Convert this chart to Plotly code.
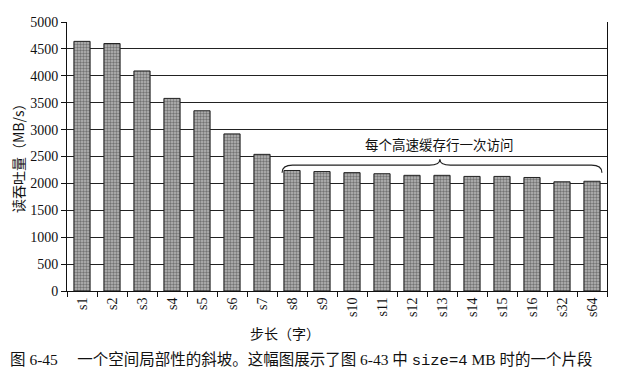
import plotly.graph_objects as go

categories = ["s1", "s2", "s3", "s4", "s5", "s6", "s7", "s8", "s9", "s10",
              "s11", "s12", "s13", "s14", "s15", "s16", "s32", "s64"]
throughput = [4640, 4600, 4090, 3580, 3350, 2920, 2540, 2240, 2220, 2200,
              2180, 2150, 2150, 2130, 2130, 2110, 2030, 2040]
y_ticks = [0, 500, 1000, 1500, 2000, 2500, 3000, 3500, 4000, 4500, 5000]
y_title = "读吞吐量（MB/s）"
x_title = "步长（字）"
brace_label = "每个高速缓存行一次访问"
caption = ('图 6-45 &nbsp;&nbsp;&nbsp; 一个空间局部性的斜坡。这幅图展示了图 6-43 中 '
           '<span style="font-family:Liberation Mono">size=4</span> MB 时的一个片段')

serif = "Liberation Serif, Noto Sans CJK SC"
cjk = "Noto Sans CJK SC"

# the page body has an 8px default margin, so the figure is 8px smaller
W, H = 632, 371
L, T, PW, PH = 59, 14, 540, 269

fig = go.Figure(go.Bar(
    x=categories, y=throughput,
    width=0.54,
    marker=dict(
        color="#8e8e8e",
        line=dict(color="#222", width=1),
        pattern=dict(shape=".", fgcolor="#2e2e2e", bgcolor="#b8b8b8",
                     size=3, solidity=0.5),
    ),
))

# curly brace over s8..s64 (in data units: category index, throughput)
x0, x1, xm = 6.67, 17.33, 11.93
yh, ye, yc = 2340, 2200, 2450
r = 0.35
brace = (f"M {x0},{ye} Q {x0},{yh} {x0 + r},{yh} L {xm - r},{yh} "
         f"Q {xm},{yh} {xm},{yc} Q {xm},{yh} {xm + r},{yh} "
         f"L {x1 - r},{yh} Q {x1},{yh} {x1},{ye}")
fig.add_shape(type="path", path=brace, xref="x", yref="y",
              line=dict(color="#222", width=1.2))
fig.add_annotation(x=xm, y=2740, xref="x", yref="y", text=brace_label,
                   showarrow=False, yanchor="middle",
                   font=dict(family=cjk, size=13.5, color="#111"))


def px(x):
    return (x - 67) / PW


def py(y):
    return (291 - y) / PH


fig.add_annotation(x=px(285), y=py(333), xref="paper", yref="paper",
                   text=x_title, showarrow=False, yanchor="middle",
                   font=dict(family=cjk, size=14, color="#111"))
fig.add_annotation(x=px(18), y=py(155), xref="paper", yref="paper",
                   text=y_title, showarrow=False, textangle=-90,
                   xanchor="center", yanchor="middle",
                   font=dict(family=cjk, size=14, color="#111"))
fig.add_annotation(x=px(8), y=py(360), xref="paper", yref="paper",
                   text=caption, showarrow=False, xanchor="left",
                   yanchor="middle",
                   font=dict(family=serif, size=15.5, color="#111"))

fig.update_layout(
    width=W, height=H,
    margin=dict(l=L, r=W - L - PW, t=T, b=H - T - PH, autoexpand=False),
    paper_bgcolor="white", plot_bgcolor="white",
    showlegend=False,
    font=dict(family=serif, size=14, color="#111"),
    xaxis=dict(
        type="category", tickangle=-90, ticks="outside", tickson="boundaries",
        ticklen=5, tickcolor="#111", showline=True, linecolor="#111",
        linewidth=1, showgrid=False, automargin=False,
        tickfont=dict(family=serif, size=14, color="#111"),
    ),
    yaxis=dict(
        range=[0, 5000], tickvals=y_ticks, ticks="outside", ticklen=5,
        tickcolor="#111", showline=True, linecolor="#111", linewidth=1,
        mirror=True, showgrid=True, gridcolor="#222", gridwidth=1,
        zeroline=False, automargin=False,
        tickfont=dict(family=serif, size=14, color="#111"),
    ),
)

fig.write_html("out.html")
